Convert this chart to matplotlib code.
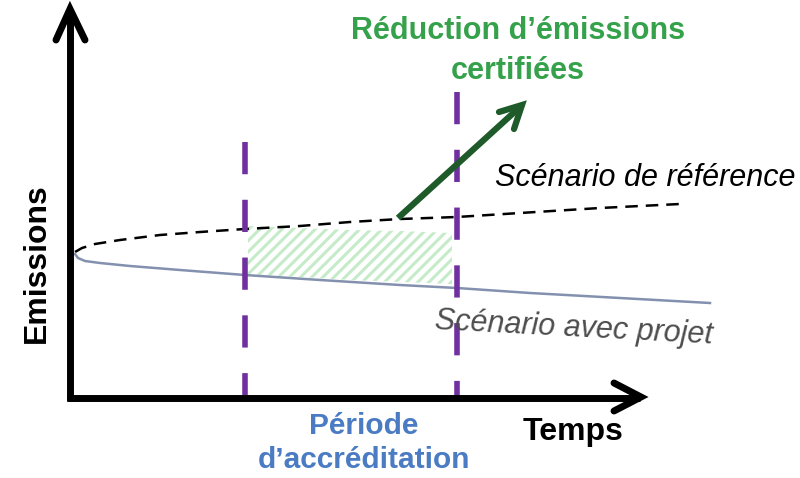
import matplotlib.pyplot as plt
from matplotlib.patches import Polygon
import numpy as np

plt.rcParams['font.family'] = ['Liberation Sans', 'DejaVu Sans']

# schematic coordinates (pixel-like units, y grows downwards)
ref_x = [75, 82, 95, 120, 160, 200, 245, 300, 350, 400, 457, 520, 600, 680]
ref_y = [252, 248, 244, 240, 235, 232, 229, 226, 222, 219, 217, 213, 208, 204]

proj_x = [75, 78, 85, 100, 130, 180, 245, 320, 400, 457, 530, 620, 710]
proj_y = [254, 258, 261, 263, 266, 270, 275, 280, 285, 288, 293, 298, 303]

hatch_x = [248, 300, 350, 400, 452]
hatch_top = [226, 228, 230, 231, 233]
hatch_bot = [274, 277, 280, 282, 284]

period_x = [245, 457]
period_top = [142, 92]
axis_origin = (70, 398)

fig = plt.figure(figsize=(8, 4.78), dpi=100)
ax = fig.add_axes([0, 0, 1, 1])
ax.set_xlim(0, 800)
ax.set_ylim(478, 0)
ax.axis('off')

# hatched area
poly = np.column_stack([hatch_x + hatch_x[::-1], hatch_top + hatch_bot[::-1]])
plt.rcParams['hatch.color'] = '#c5ebc9'
plt.rcParams['hatch.linewidth'] = 2.2
ax.add_patch(Polygon(poly, closed=True, facecolor='none', edgecolor='#c5ebc9',
                     hatch='///', linewidth=0))

# scenario lines
ax.plot(ref_x, ref_y, color='black', linewidth=1.8, linestyle=(0, (5, 3.2)))
ax.plot(proj_x, proj_y, color='#8390ae', linewidth=1.8)

# period dashed lines
for x, top in zip(period_x, period_top):
    ax.plot([x, x], [top, 398], color='#7030a0', linewidth=4.0,
            linestyle=(0, (5.8, 4.6)), solid_capstyle='butt')

# axes with chevron arrows
ox, oy = axis_origin
ax.plot([ox, ox], [oy + 3, 10], color='black', linewidth=5, solid_capstyle='butt')
ax.plot([ox - 3, 640], [oy, oy], color='black', linewidth=5, solid_capstyle='butt')
ax.plot([56, 70, 85], [40, 9, 40], color='black', linewidth=5,
        solid_capstyle='round', solid_joinstyle='miter')
ax.plot([614, 641, 614], [383, 397, 411], color='black', linewidth=5,
        solid_capstyle='round', solid_joinstyle='miter')

# green arrow
ax.plot([398, 520], [218, 107], color='#1e5a2a', linewidth=4.5, solid_capstyle='butt')
ax.plot([499, 522, 514], [112, 105, 129], color='#1e5a2a', linewidth=4.5,
        solid_capstyle='round', solid_joinstyle='miter')

# texts
ax.text(518, 51, "Réduction d’émissions\ncertifiées", color='#35a24b',
        fontsize=22, fontweight='bold', ha='center', va='center', linespacing=1.4)
ax.text(645, 178, "Scénario de référence", color='black', fontsize=22,
        style='italic', ha='center', va='center')
ax.text(574, 328, "Scénario avec projet", color='#4d4d4d', fontsize=22,
        style='italic', ha='center', va='center', rotation=-3)
ax.text(37, 263, "Emissions", color='black', fontsize=23, fontweight='bold',
        rotation=90, ha='center', va='center')
ax.text(573, 432, "Temps", color='black', fontsize=23, fontweight='bold',
        ha='center', va='center')
ax.text(364, 443, "Période\nd’accréditation", color='#4a7bc3', fontsize=21.5,
        fontweight='bold', ha='center', va='center', linespacing=1.25)

fig.savefig('out.png', dpi=100)
